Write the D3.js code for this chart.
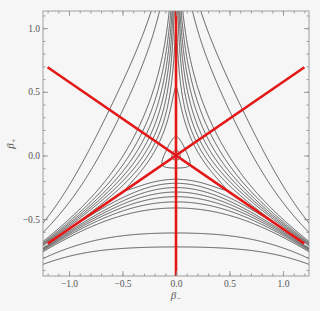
<!DOCTYPE html>
<html lang="en">
<head>
<meta charset="UTF-8">
<title>Bianchi IX potential</title>
<script src="https://d3js.org/d3.v7.min.js"></script>
<style>
    body { margin: 0; background: #f6f6f6; }
</style>
</head>
<body>
<svg id="chart" width="320" height="311"></svg>
<script>
// axis ranges (beta_minus horizontal, beta_plus vertical)
const xDomain = [-1.243, 1.243];
const yDomain = [-0.947, 1.135];
const xMajor = [-1.0, -0.5, 0.0, 0.5, 1.0];
const yMajor = [-0.5, 0.0, 0.5, 1.0];
const xTickLabels = ["\u22121.0", "\u22120.5", "0.0", "0.5", "1.0"];
const yTickLabels = ["\u22120.5", "0.0", "0.5", "1.0"];

// equipotential levels
const levels = [0.012, 0.11, 0.55, 0.85, 1.3, 1.95, 2.9, 4.4, 7.0, 40, 100];

// red channel axes: start and end points
const redX1 = [0, -1.2, -1.2];
const redY1 = [-0.947, 0.6928, -0.6928];
const redX2 = [0, 1.2, 1.2];
const redY2 = [1.135, -0.6928, 0.6928];

// Bianchi IX anisotropy potential, shifted so the minimum is 0
function potential(bp, bm) {
    const s = Math.sqrt(3);
    return (Math.exp(-8 * bp)
        - 4 * Math.exp(-2 * bp) * Math.cosh(2 * s * bm)
        + 2 * Math.exp(4 * bp) * (Math.cosh(4 * s * bm) - 1)) / 3 + 1;
}

const svg = d3.select("#chart");
const margin = { top: 11, right: 11, bottom: 35, left: 43 };
const width = 320 - margin.left - margin.right;
const height = 311 - margin.top - margin.bottom;

const x = d3.scaleLinear().domain(xDomain).range([0, width]);
const y = d3.scaleLinear().domain(yDomain).range([height, 0]);

const g = svg.append("g").attr("transform", `translate(${margin.left},${margin.top})`);

g.append("clipPath").attr("id", "clip")
    .append("rect").attr("width", width).attr("height", height);

// sample the field on a grid a little larger than the plot
const n = 420, m = 360;
const gx0 = xDomain[0] - 0.05, gx1 = xDomain[1] + 0.05;
const gy0 = yDomain[0] - 0.05, gy1 = yDomain[1] + 0.05;
const values = new Array(n * m);
for (let j = 0; j < m; j++) {
    const bp = gy0 + (gy1 - gy0) * j / (m - 1);
    for (let i = 0; i < n; i++) {
        const bm = gx0 + (gx1 - gx0) * i / (n - 1);
        values[j * n + i] = potential(bp, bm);
    }
}

const contours = d3.contours().size([n, m]).thresholds(levels)(values);

const toPlot = d3.geoTransform({
    point: function (px, py) {
        const bm = gx0 + (gx1 - gx0) * (px - 0.5) / (n - 1);
        const bp = gy0 + (gy1 - gy0) * (py - 0.5) / (m - 1);
        this.stream.point(x(bm), y(bp));
    }
});
const path = d3.geoPath(toPlot);

const plot = g.append("g").attr("clip-path", "url(#clip)");

plot.selectAll(".contour")
    .data(contours)
    .enter().append("path")
    .attr("class", "contour")
    .attr("d", path)
    .attr("fill", "none")
    .attr("stroke", "#333")
    .attr("stroke-width", 0.8);

plot.selectAll(".channel")
    .data(redX1)
    .enter().append("line")
    .attr("x1", (d, i) => x(redX1[i]))
    .attr("y1", (d, i) => y(redY1[i]))
    .attr("x2", (d, i) => x(redX2[i]))
    .attr("y2", (d, i) => y(redY2[i]))
    .attr("stroke", "#e31818")
    .attr("stroke-width", 2.6);

// frame with inward ticks on all four sides
const minorTicks = d3.range(-12, 13).map(k => k / 10);
const xMinor = minorTicks.filter(v => v >= xDomain[0] && v <= xDomain[1]);
const yMinor = minorTicks.filter(v => v >= yDomain[0] && v <= yDomain[1]);
const frameColor = "#8a8a8a";

g.append("rect")
    .attr("width", width).attr("height", height)
    .attr("fill", "none").attr("stroke", frameColor).attr("stroke-width", 0.8);

g.append("g").attr("transform", `translate(0,${height})`)
    .call(d3.axisBottom(x).tickValues(xMajor).tickSizeInner(-5).tickSizeOuter(0)
        .tickFormat((d, i) => xTickLabels[i]).tickPadding(4));
g.append("g")
    .call(d3.axisTop(x).tickValues(xMajor).tickSizeInner(-5).tickSizeOuter(0).tickFormat(""));
g.append("g")
    .call(d3.axisLeft(y).tickValues(yMajor).tickSizeInner(-5).tickSizeOuter(0)
        .tickFormat((d, i) => yTickLabels[i]).tickPadding(3));
g.append("g").attr("transform", `translate(${width},0)`)
    .call(d3.axisRight(y).tickValues(yMajor).tickSizeInner(-5).tickSizeOuter(0).tickFormat(""));

g.append("g").attr("transform", `translate(0,${height})`)
    .call(d3.axisBottom(x).tickValues(xMinor).tickSizeInner(-2.5).tickSizeOuter(0).tickFormat(""));
g.append("g")
    .call(d3.axisTop(x).tickValues(xMinor).tickSizeInner(-2.5).tickSizeOuter(0).tickFormat(""));
g.append("g")
    .call(d3.axisLeft(y).tickValues(yMinor).tickSizeInner(-2.5).tickSizeOuter(0).tickFormat(""));
g.append("g").attr("transform", `translate(${width},0)`)
    .call(d3.axisRight(y).tickValues(yMinor).tickSizeInner(-2.5).tickSizeOuter(0).tickFormat(""));

g.selectAll(".domain").remove();
g.selectAll(".tick line").attr("stroke", frameColor).attr("stroke-width", 0.8);
g.selectAll(".tick text")
    .style("font-family", "'Liberation Serif', serif")
    .style("font-size", "9.5px")
    .style("fill", "#555");

g.append("text")
    .attr("x", x(0))
    .attr("y", height + 23)
    .attr("text-anchor", "middle")
    .style("font", "italic 11px 'Liberation Serif', serif")
    .style("fill", "#555")
    .html("\u03b2<tspan dy='2' font-size='7.5'>\u2212</tspan>");

g.append("text")
    .attr("transform", `translate(${-29},${height / 2}) rotate(-90)`)
    .attr("text-anchor", "middle")
    .style("font", "italic 11px 'Liberation Serif', serif")
    .style("fill", "#555")
    .html("\u03b2<tspan dy='2' font-size='7.5'>+</tspan>");
</script>
</body>
</html>
